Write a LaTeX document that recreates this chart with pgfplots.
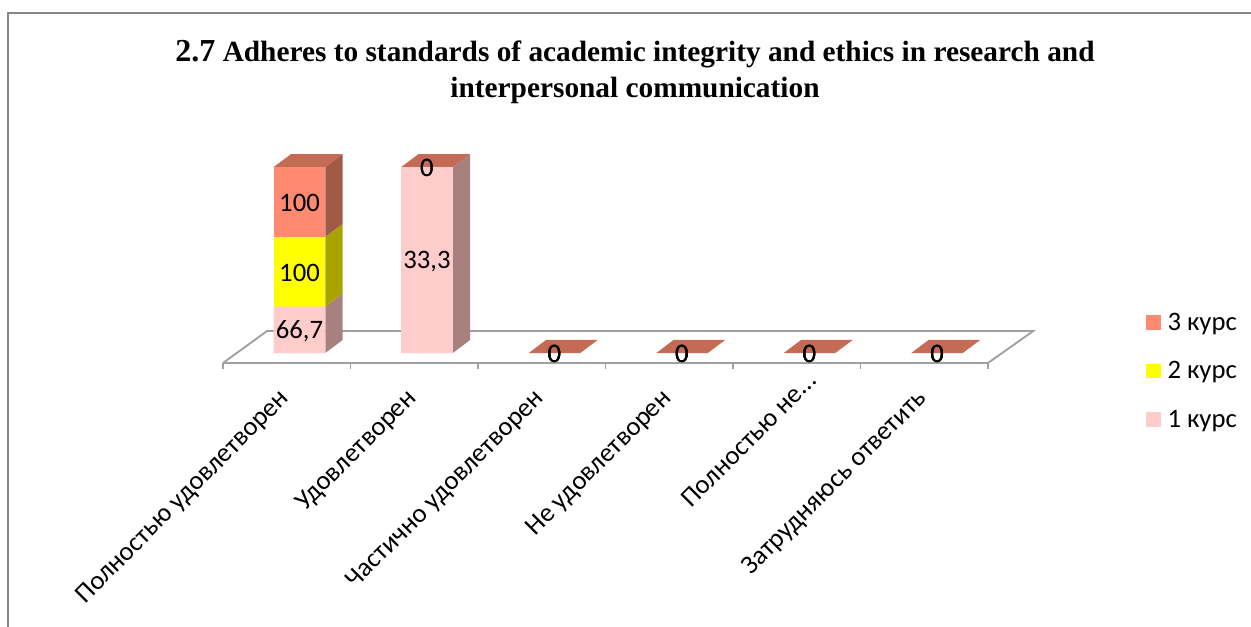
\documentclass[border=0pt]{standalone}
\usepackage{fontspec}
\setmainfont{Carlito}
\newfontfamily\titlefont{Liberation Serif}
\usepackage{pgfplots}
\pgfplotsset{compat=1.18}
\usepackage{pgfplotstable}

% 1 px of the reference = 0.75pt
\definecolor{kurs1}{HTML}{FFCCCC}
\definecolor{kurs2}{HTML}{FFFF00}
\definecolor{kurs3}{HTML}{FF8A70}
\definecolor{side1}{HTML}{A88080}
\definecolor{side2}{HTML}{A9A300}
\definecolor{side3}{HTML}{A05A46}
\definecolor{topface}{HTML}{C36B55}
\definecolor{axisgray}{HTML}{A0A0A0}
\definecolor{framegray}{HTML}{868686}

% share of the stack in percent (100% stacked bars), label = the value shown
\pgfplotstableread[col sep=space]{
x y label
0 25.0 66,7
1 100 33,3
2 0 0
3 0 0
4 0 0
5 0 0
}\kursone
\pgfplotstableread[col sep=space]{
x y label
0 37.5 100
1 0 0
2 0 0
3 0 0
4 0 0
5 0 0
}\kurstwo
\pgfplotstableread[col sep=space]{
x y label
0 37.5 100
1 0 0
2 0 0
3 0 0
4 0 0
5 0 0
}\kursthree

\pgfplotsset{
  chartbox/.style={
    at={(167.25pt,-272.25pt)}, anchor=south west,
    scale only axis, width=573.75pt, height=156.75pt,
    xmin=-0.5, xmax=5.5, ymin=-5.376, ymax=107,
    clip=false,
  },
  face/.style={draw=none, fill=#1, forget plot, mark=none},
  zero/.style={mark=none, draw=none, forget plot, nodes near coords,
    point meta=explicit symbolic,
    every node near coord/.append style={anchor=center, yshift=-1pt, font=\fontsize{20}{22}\selectfont, inner sep=0pt}},
}

\begin{document}
\begin{tikzpicture}[x=0.75pt,y=-0.75pt]
\path[use as bounding box] (0,0) rectangle (1251,627);
\draw[framegray,line width=1.4pt] (8,627) -- (8,13) -- (1251,13);

\node[align=center,font=\titlefont\bfseries\fontsize{22}{27}\selectfont] at (635,72)
  {{\fontsize{24}{27}\selectfont 2.7} Adheres to standards of academic integrity and ethics in research and\\interpersonal communication};

% floor and 3D faces
\begin{axis}[chartbox, axis lines=none]
\addplot[draw=axisgray,line width=1.4pt,mark=none,forget plot] coordinates {
  (-0.5,-5.376) (-0.155,11.83) (5.855,11.83) (5.5,-5.376)};
% side faces, bar 1
\addplot[face=side1] coordinates {(0.302,0) (0.438,7) (0.438,32) (0.302,25)} -- cycle;
\addplot[face=side2] coordinates {(0.302,25) (0.438,32) (0.438,69.5) (0.302,62.5)} -- cycle;
\addplot[face=side3] coordinates {(0.302,62.5) (0.438,69.5) (0.438,107) (0.302,100)} -- cycle;
% side face, bar 2
\addplot[face=side1] coordinates {(1.302,0) (1.438,7) (1.438,107) (1.302,100)} -- cycle;
% top faces
\addplot[face=topface] coordinates {(-0.102,100) (0.302,100) (0.438,107) (0.034,107)} -- cycle;
\addplot[face=topface] coordinates {(0.898,100) (1.302,100) (1.438,107) (1.034,107)} -- cycle;
\addplot[face=topface] coordinates {(1.898,0) (2.302,0) (2.438,7) (2.034,7)} -- cycle;
\addplot[face=topface] coordinates {(2.898,0) (3.302,0) (3.438,7) (3.034,7)} -- cycle;
\addplot[face=topface] coordinates {(3.898,0) (4.302,0) (4.438,7) (4.034,7)} -- cycle;
\addplot[face=topface] coordinates {(4.898,0) (5.302,0) (5.438,7) (5.034,7)} -- cycle;
\end{axis}

% front faces, category axis, legend
\begin{axis}[chartbox,
  ybar stacked, bar width=0.404, bar shift=0.1,
  axis x line=bottom, axis y line=none,
  axis line style={-, draw=axisgray, line width=1.4pt},
  xtick={0,1,2,3,4,5},
  xticklabels={Полностью удовлетворен,Удовлетворен,Частично удовлетворен,Не удовлетворен,{Полностью не{...}\kern-19pt},Затрудняюсь ответить},
  major x tick style={draw=none},
  minor xtick={-0.5,0.5,1.5,2.5,3.5,4.5,5.5},
  minor x tick style={draw=axisgray, line width=1.4pt},
  minor tick length=4.5pt,
  xtick pos=bottom, tick align=outside,
  x tick label style={rotate=45, anchor=north east, font=\fontsize{20}{22}\selectfont, inner sep=0pt, yshift=-5pt, xshift=-14.5pt},
  legend image code/.code={\fill[#1,draw=none] (0pt,-5.6pt) rectangle (11.25pt,5.6pt);\path (14pt,0pt);},
  reverse legend,
  legend style={at={(1.2065,-0.038)}, anchor=west, draw=none, fill=none,
    font=\fontsize{20}{22}\selectfont, row sep=18pt, inner sep=0pt,
    /tikz/every even column/.append style={column sep=0pt}},
]
\addplot[fill=kurs1,draw=none] table[x=x,y=y] {\kursone};
\addplot[fill=kurs2,draw=none] table[x=x,y=y] {\kurstwo};
\addplot[fill=kurs3,draw=none] table[x=x,y=y] {\kursthree};
\legend{1 курс,2 курс,3 курс}
\end{axis}

% value labels, in the middle of each segment
\begin{axis}[chartbox, axis lines=none]
\addplot[zero] table[x=x,y=y,meta=label] {
x y label
0.1 12.5 66,7
1.1 50 33,3
2.1 0 0
3.1 0 0
4.1 0 0
5.1 0 0
};
\addplot[zero] table[x=x,y=y,meta=label] {
x y label
0.1 43.75 100
1.1 100 0
2.1 0 0
3.1 0 0
4.1 0 0
5.1 0 0
};
\addplot[zero] table[x=x,y=y,meta=label] {
x y label
0.1 81.25 100
1.1 100 0
2.1 0 0
3.1 0 0
4.1 0 0
5.1 0 0
};
\end{axis}
\end{tikzpicture}
\end{document}
